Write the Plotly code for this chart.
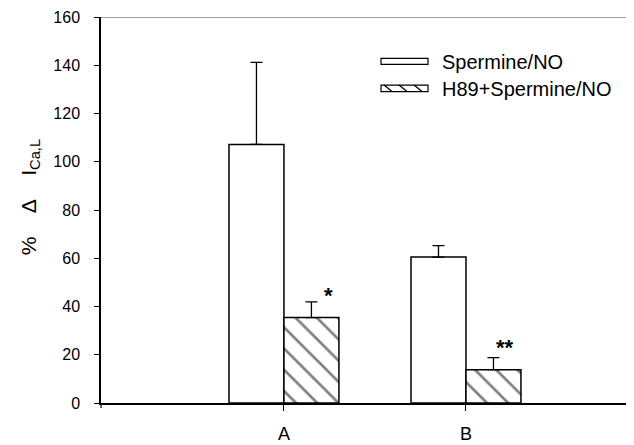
import plotly.graph_objects as go

categories = ["A", "B"]
spermine_vals = [107.2, 60.5]
spermine_err = [34.0, 4.7]
h89_vals = [35.4, 13.8]
h89_err = [6.5, 5.0]
y_ticks = [0, 20, 40, 60, 80, 100, 120, 140, 160]
legend_names = ["Spermine/NO", "H89+Spermine/NO"]
sig_marks = ["*", "**"]
sig_y = [44.5, 23.0]
sp = "\u00a0" * 4
y_title = "%" + sp + "\u0394" + sp + "I<sub>Ca,L</sub>"

# the page body adds an 8px margin; lay the figure out in screen pixels
OFF = 8
SW, SH = 634, 445
W, H = SW - OFF, SH - OFF
AX_L, AX_R, AX_T, AX_B = 101, 634, 17, 402.7   # plot area in screen px
ML, MR, MT, MB = AX_L - OFF, SW - AX_R, AX_T - OFF, SH - AX_B
PW = AX_R - AX_L
PH = AX_B - AX_T


def px(x):
    return (x - AX_L) / PW


def py(y):
    return (AX_B - y) / PH


FONT = "Liberation Sans, Arial, sans-serif"

fig = go.Figure()
fig.add_trace(go.Bar(
    x=categories, y=spermine_vals, name=legend_names[0],
    marker=dict(color="white", line=dict(color="black", width=1.5)),
    error_y=dict(type="data", symmetric=False, array=spermine_err,
                 arrayminus=[0, 0], color="black", thickness=1.3, width=6),
    showlegend=False,
))
fig.add_trace(go.Bar(
    x=categories, y=h89_vals, name=legend_names[1],
    marker=dict(color="white", line=dict(color="black", width=1.5),
                pattern=dict(shape="\\", size=15, solidity=0.18,
                             fgcolor="black", bgcolor="white")),
    error_y=dict(type="data", symmetric=False, array=h89_err,
                 arrayminus=[0, 0], color="black", thickness=1.3, width=6),
    showlegend=False,
))

# significance markers
offsets = [0.247, 0.214]
for i, (m, yv) in enumerate(zip(sig_marks, sig_y)):
    fig.add_annotation(x=i + offsets[i], y=yv, xref="x", yref="y",
                       text="<b>" + m + "</b>", showarrow=False,
                       font=dict(family=FONT, size=22, color="black"))

# category labels
for c in categories:
    fig.add_annotation(x=c, y=py(434), xref="x", yref="paper", text=c,
                       showarrow=False, xanchor="center", yanchor="middle",
                       font=dict(family=FONT, size=18, color="black"))

# y-axis title
fig.add_annotation(x=px(30), y=py(197), xref="paper", yref="paper",
                   text=y_title, textangle=-90, showarrow=False,
                   xanchor="center", yanchor="middle",
                   font=dict(family=FONT, size=21, color="black"))

shapes = []
# top frame line
shapes.append(dict(type="line", xref="paper", yref="y", x0=0, x1=1, y0=160, y1=160,
                   line=dict(color="#444", width=1)))
# y-axis overshoot below x-axis
shapes.append(dict(type="line", xref="paper", yref="paper", x0=0, x1=0,
                   y0=0, y1=-5 / PH, line=dict(color="black", width=1.2)))
# custom legend
box_rows = [(58.3, 64.3), (85.0, 91.5)]
for k, (t, b) in enumerate(box_rows):
    shapes.append(dict(type="rect", xref="paper", yref="paper",
                       x0=px(381), x1=px(428), y0=py(b), y1=py(t),
                       line=dict(color="black", width=1.2), fillcolor="white"))
    fig.add_annotation(x=px(440), y=py((t + b) / 2 + 1), xref="paper", yref="paper",
                       text=legend_names[k], showarrow=False, xanchor="left",
                       yanchor="middle", font=dict(family=FONT, size=20, color="black"))
t, b = box_rows[1]
for x0 in [384, 399, 414]:
    shapes.append(dict(type="line", xref="paper", yref="paper",
                       x0=px(x0), x1=px(x0 + 8), y0=py(t), y1=py(b),
                       line=dict(color="black", width=1.3)))

fig.update_layout(
    width=W, height=H,
    margin=dict(l=ML, r=MR, t=MT, b=MB),
    paper_bgcolor="white", plot_bgcolor="white",
    barmode="group", bargap=0.396, bargroupgap=0,
    font=dict(family=FONT, size=16, color="black"),
    shapes=shapes,
    showlegend=False,
)
fig.update_xaxes(
    type="category", range=[-1.005, 1.923],
    showline=True, linecolor="black", linewidth=1.5,
    ticks="outside", ticklen=6, tickcolor="black", tickwidth=1,
    showgrid=False, zeroline=False, showticklabels=False,
)
fig.update_yaxes(
    range=[0, 160], tickvals=y_ticks,
    showline=True, linecolor="black", linewidth=1.5,
    ticks="outside", ticklen=5, tickcolor="black", tickwidth=1,
    showgrid=False, zeroline=False,
    tickfont=dict(family=FONT, size=16),
    ticklabelstandoff=11,
)

fig.write_html("out.html")
